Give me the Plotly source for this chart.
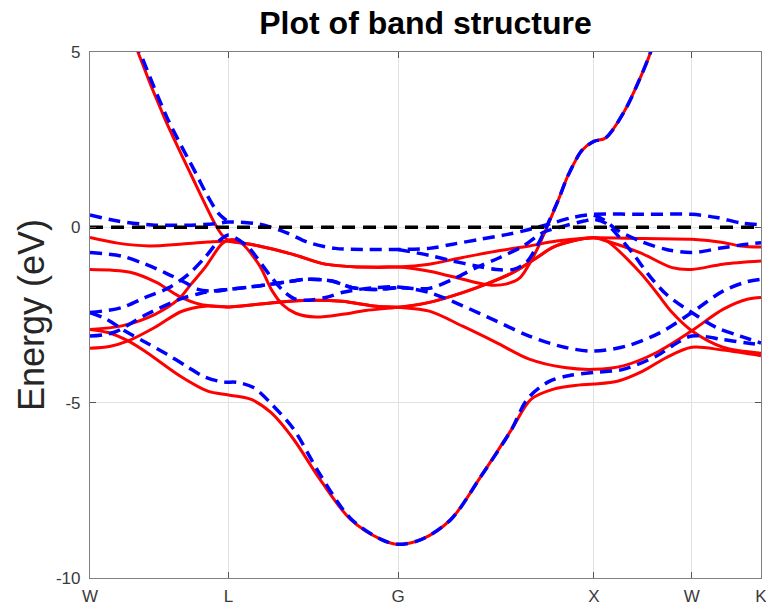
import numpy as np
import plotly.graph_objects as go

# High-symmetry points of the fcc Brillouin zone (units of 2*pi/a)
HS_LABELS = ["W", "L", "G", "X", "W", "K"]
HS_COORDS = [(1.0, 0.5, 0.0), (0.5, 0.5, 0.5), (0.0, 0.0, 0.0),
             (1.0, 0.0, 0.0), (1.0, 0.5, 0.0), (0.75, 0.75, 0.0)]

E_FERMI = 0.0
Y_TICKS = [-10, -5, 0, 5]
Y_RANGE = [-10, 5]

# Band energies in eV as (k, E); k counts path segments: 0=W, 1=L, 2=G, 3=X, 4=W, 5=K
# --- model A (solid red) ---
red_bottom = [(0, -2.91), (0.13, -3.0), (0.275, -3.24), (0.41, -3.57), (0.65, -4.24),
              (0.85, -4.67), (1.0, -4.78), (1.13, -4.9), (1.25, -5.28), (1.385, -6.05),
              (1.54, -7.19), (1.72, -8.33), (1.9, -8.9), (2.0, -9.04), (2.12, -8.9),
              (2.27, -8.33), (2.42, -7.13), (2.58, -5.76), (2.68, -4.9), (2.79, -4.62),
              (2.92, -4.5), (3.0, -4.47), (3.25, -4.38), (3.5, -4.1), (3.75, -3.7),
              (4.0, -3.42), (4.45, -3.5), (5.0, -3.66)]
red_d1 = [(0, -0.29), (0.2, -0.45), (0.43, -0.53), (0.65, -0.48), (0.85, -0.42), (1.0, -0.4),
          (1.18, -0.53), (1.38, -0.77), (1.57, -1.05), (1.77, -1.13), (2.0, -1.13),
          (2.16, -1.05), (2.33, -0.86), (2.5, -0.68), (2.67, -0.53), (2.81, -0.39),
          (2.95, -0.31), (3.0, -0.3), (3.5, -0.32), (4.0, -0.34), (4.45, -0.43),
          (4.7, -0.53), (5.0, -0.56)]
red_d2 = [(0, -1.2), (0.29, -1.28), (0.48, -1.57), (0.64, -1.96), (0.8, -2.2), (0.92, -2.25),
          (1.0, -2.27), (1.28, -2.14), (1.47, -2.08), (1.67, -2.11), (1.87, -2.25), (2.0, -2.28),
          (2.16, -2.39), (2.33, -2.82), (2.5, -3.28), (2.67, -3.76), (2.85, -4.0), (3.0, -4.05),
          (3.3, -3.95), (3.64, -3.57), (4.0, -2.95), (4.45, -2.34), (4.8, -2.05), (5.0, -2.0)]
red_d3 = [(0, -2.91), (0.23, -2.81), (0.47, -2.48), (0.64, -2.05), (0.73, -1.62), (0.83, -1.15),
          (0.95, -0.48), (1.0, -0.36), (1.059, -0.39), (1.178, -1.05), (1.259, -1.82),
          (1.318, -2.2), (1.396, -2.45), (1.515, -2.56), (1.673, -2.48), (1.81, -2.37),
          (2.0, -2.28), (2.16, -2.14), (2.33, -1.86), (2.45, -1.62), (2.59, -1.28),
          (2.71, -0.86), (2.79, -0.57), (2.89, -0.39), (3.0, -0.3), (3.13, -0.39),
          (3.47, -1.28), (3.64, -1.86), (3.8, -2.43), (4.0, -2.95), (4.45, -3.42), (5.0, -3.59)]
red_d4 = [(0, -3.45), (0.14, -3.4), (0.275, -3.24), (0.47, -2.85), (0.66, -2.4), (0.83, -2.25),
          (1.0, -2.27), (1.28, -2.14), (1.47, -2.08), (1.67, -2.11), (1.87, -2.25), (2.0, -2.28),
          (2.16, -2.14), (2.33, -1.86), (2.45, -1.62), (2.59, -1.28), (2.71, -0.86),
          (2.79, -0.57), (2.89, -0.39), (3.0, -0.3), (3.13, -0.39), (3.47, -0.72),
          (3.8, -1.15), (4.0, -1.2), (4.45, -1.05), (5.0, -0.96)]
red_sp_wl = [(0.32, 5.3), (0.346, 5.0), (0.54, 3.1), (0.73, 1.5), (0.90, 0.12), (0.95, -0.2),
             (1.0, -0.38)]
red_sp_gx = [(1.0, -0.4), (1.18, -0.53), (1.38, -0.77), (1.57, -1.05), (1.77, -1.13),
             (2.0, -1.13), (2.16, -1.25), (2.33, -1.48), (2.42, -1.6), (2.49, -1.65),
             (2.55, -1.62), (2.62, -1.45), (2.67, -1.05), (2.71, -0.63), (2.76, 0.0),
             (2.82, 0.8), (2.87, 1.5), (2.94, 2.2), (3.0, 2.45), (3.12, 2.55), (3.31, 3.3),
             (3.47, 4.24), (3.58, 5.0), (3.62, 5.4)]

# --- model B (dashed blue) ---
blue_bottom = [(0, -2.43), (0.12, -2.62), (0.25, -2.95), (0.41, -3.3), (0.556, -3.62),
               (0.70, -3.97), (0.82, -4.25), (0.96, -4.41), (1.05, -4.42), (1.148, -4.57),
               (1.266, -5.1), (1.385, -5.76), (1.54, -7.05), (1.72, -8.3), (1.9, -8.9),
               (2.0, -9.04), (2.12, -8.9), (2.27, -8.33), (2.42, -7.13), (2.58, -5.76),
               (2.66, -4.9), (2.77, -4.4), (2.88, -4.22), (3.0, -4.14), (3.3, -4.05),
               (3.64, -3.67), (3.8, -3.38), (4.0, -3.1), (4.45, -3.2), (4.8, -3.3), (5.0, -3.35)]
blue_d1 = [(0, 0.35), (0.2, 0.18), (0.45, 0.07), (0.7, 0.06), (0.9, 0.1), (1.0, 0.15),
           (1.18, 0.09), (1.34, -0.15), (1.47, -0.43), (1.63, -0.6), (1.81, -0.63), (2.0, -0.63),
           (2.16, -0.6), (2.28, -0.48), (2.42, -0.34), (2.56, -0.2), (2.67, -0.06), (2.77, 0.09),
           (2.89, 0.28), (3.0, 0.37), (3.5, 0.37), (4.0, 0.37), (4.36, 0.28), (4.7, 0.13),
           (5.0, 0.07)]
blue_d2 = [(0, -0.72), (0.227, -0.82), (0.4, -1.05), (0.54, -1.29), (0.69, -1.58), (0.78, -1.77),
           (0.9, -1.82), (1.0, -1.77), (1.178, -1.67), (1.38, -1.53), (1.47, -1.48),
           (1.61, -1.53), (1.73, -1.72), (1.87, -1.77), (2.0, -1.72)]
blue_d3 = [(0, -2.43), (0.227, -2.29), (0.4, -2.0), (0.57, -1.72), (0.71, -1.34), (0.83, -0.86),
           (0.93, -0.39), (1.0, -0.22), (1.04, -0.3), (1.118, -0.57), (1.195, -1.05),
           (1.254, -1.43), (1.325, -1.82), (1.396, -2.05), (1.473, -2.08), (1.574, -2.0),
           (1.675, -1.85), (1.77, -1.77), (1.87, -1.72), (2.0, -1.7), (2.16, -1.86),
           (2.33, -2.24), (2.5, -2.67), (2.67, -3.1), (2.85, -3.42), (3.0, -3.53),
           (3.34, -3.38), (3.68, -3.0), (4.0, -2.43), (4.45, -1.82), (4.8, -1.55), (5.0, -1.48)]
blue_d4 = [(0, -3.1), (0.17, -3.0), (0.41, -2.48), (0.65, -2.05), (0.8, -1.88), (0.92, -1.8),
           (1.0, -1.77), (1.178, -1.67), (1.38, -1.53), (1.47, -1.48), (1.61, -1.53),
           (1.73, -1.72), (1.87, -1.77), (2.0, -1.72), (2.16, -1.74), (2.28, -1.48),
           (2.4, -1.15), (2.52, -0.86), (2.64, -0.53), (2.74, -0.15), (2.85, 0.04),
           (2.95, 0.18), (3.0, 0.23), (3.12, 0.12), (3.25, -0.25), (3.4, -0.75),
           (3.57, -1.39), (3.74, -1.91), (4.0, -2.43), (4.36, -2.86), (4.7, -3.1), (5.0, -3.3)]
blue_d5 = [(3.0, 0.35), (3.1, 0.22), (3.23, -0.06), (3.47, -0.39), (3.74, -0.63), (4.0, -0.72),
           (4.45, -0.58), (4.8, -0.48), (5.0, -0.44)]
blue_sp_wl = [(0.33, 5.3), (0.36, 5.0), (0.56, 3.1), (0.77, 1.5), (0.843, 0.94), (0.928, 0.4),
              (1.0, 0.15)]
blue_sp_gx = [(2.0, -0.63), (2.16, -0.8), (2.28, -0.96), (2.4, -1.1), (2.5, -1.2), (2.59, -1.2),
              (2.655, -1.0), (2.71, -0.53), (2.76, 0.04), (2.82, 0.8), (2.87, 1.5), (2.94, 2.2),
              (3.0, 2.45), (3.12, 2.55), (3.31, 3.3), (3.47, 4.24), (3.58, 5.0), (3.62, 5.4)]

RED_BANDS = [red_bottom, red_d1, red_d2, red_d3, red_d4, red_sp_wl, red_sp_gx]
BLUE_BANDS = [blue_bottom, blue_d1, blue_d2, blue_d3, blue_d4, blue_d5, blue_sp_wl, blue_sp_gx]

# cumulative path length through the high-symmetry points
coords = np.array(HS_COORDS)
nodes = np.concatenate([[0.0], np.cumsum(np.linalg.norm(np.diff(coords, axis=0), axis=1))])


def along_path(band):
    k, e = np.array(band).T
    return np.interp(k, np.arange(len(nodes)), nodes), e


FONT = "Liberation Sans, Arial, Helvetica, sans-serif"
fig = go.Figure()

for band in RED_BANDS:
    x, y = along_path(band)
    fig.add_trace(go.Scatter(x=x, y=y, mode="lines", showlegend=False, hoverinfo="skip",
                             line=dict(color="#ff0000", width=3, shape="spline", smoothing=0.9)))

for band in BLUE_BANDS:
    x, y = along_path(band)
    fig.add_trace(go.Scatter(x=x, y=y, mode="lines", showlegend=False, hoverinfo="skip",
                             line=dict(color="#0000ff", width=3.5, dash="12px,7px",
                                       shape="spline", smoothing=0.9)))

# Fermi level
fig.add_trace(go.Scatter(x=[nodes[0], nodes[-1]], y=[E_FERMI, E_FERMI], mode="lines",
                         showlegend=False, hoverinfo="skip",
                         line=dict(color="#000000", width=3.5, dash="13px,8px")))

axis_common = dict(showgrid=True, gridcolor="#e2e2e2", gridwidth=1, zeroline=False,
                   showline=True, linecolor="#808080", linewidth=1.2, mirror="ticks",
                   ticks="inside", ticklen=6, tickcolor="#555555", tickwidth=1,
                   automargin=False, ticklabeloverflow="allow",
                   tickfont=dict(family=FONT, size=17, color="#3a3a3a"))

fig.update_xaxes(range=[nodes[0], nodes[-1]], tickmode="array", tickvals=nodes,
                 ticktext=HS_LABELS, ticklabelstandoff=2, **axis_common)
fig.update_yaxes(range=Y_RANGE, tickmode="array", tickvals=Y_TICKS,
                 ticktext=[str(v) for v in Y_TICKS], ticklabelstandoff=5, **axis_common)

fig.update_layout(
    width=766, height=611,
    margin=dict(l=90, r=5, t=52, b=33),
    paper_bgcolor="white", plot_bgcolor="white",
    title=dict(text="<b>Plot of band structure</b>", x=0.5, xref="paper", xanchor="center",
               y=1 - 23 / 611, yref="container", yanchor="middle",
               font=dict(family=FONT, size=32, color="#000000")),
    annotations=[dict(text="Energy (eV)", xref="paper", yref="paper", x=-59 / 671, y=0.5,
                      xanchor="center", yanchor="middle", textangle=-90, showarrow=False,
                      font=dict(family=FONT, size=36, color="#262626"))],
)

fig.write_html("out.html")
